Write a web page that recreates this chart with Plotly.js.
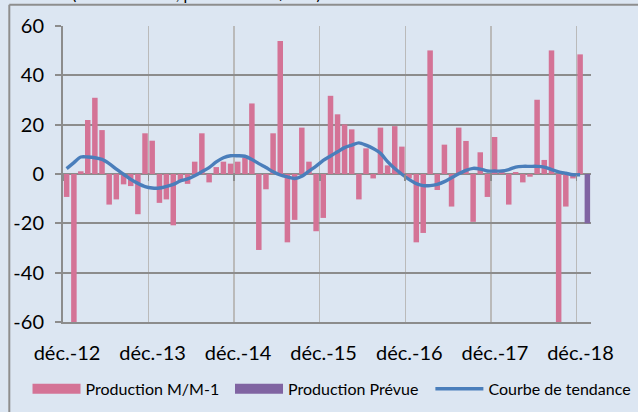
<!DOCTYPE html>
<html><head><meta charset="utf-8">
<script src="https://cdn.plot.ly/plotly-3.0.1.min.js"></script>
<style>html,body{margin:0;padding:0;background:#DCE6F2;} #chart{width:638px;height:412px;}</style>
</head><body><div id="chart"></div>
<script>
// Categories: months from déc. 2012 to déc. 2018
const months = [
 "2012-12",
 "2013-01","2013-02","2013-03","2013-04","2013-05","2013-06","2013-07","2013-08","2013-09","2013-10","2013-11","2013-12",
 "2014-01","2014-02","2014-03","2014-04","2014-05","2014-06","2014-07","2014-08","2014-09","2014-10","2014-11","2014-12",
 "2015-01","2015-02","2015-03","2015-04","2015-05","2015-06","2015-07","2015-08","2015-09","2015-10","2015-11","2015-12",
 "2016-01","2016-02","2016-03","2016-04","2016-05","2016-06","2016-07","2016-08","2016-09","2016-10","2016-11","2016-12",
 "2017-01","2017-02","2017-03","2017-04","2017-05","2017-06","2017-07","2017-08","2017-09","2017-10","2017-11","2017-12",
 "2018-01","2018-02","2018-03","2018-04","2018-05","2018-06","2018-07","2018-08","2018-09","2018-10","2018-11","2018-12"
];
// Production M/M-1 (%)
const production = [
 -9.3,
 -61, 1.1, 21.9, 30.9, 17.8, -12.4, -10.3, -4.2, -4.9, -16.3, 16.5, 13.5,
 -11.7, -10.3, -20.8, -3.2, -4.0, 5.0, 16.5, -3.4, 2.8, 5.0, 4.2, 5.0,
 6.6, 28.6, -30.8, -6.2, 16.5, 53.9, -27.7, -18.6, 18.8, 5.0, -23.2, -17.8,
 31.7, 24.2, 20.1, 18.1, -10.3, 10.4, -1.8, 18.8, 3.5, 19.4, 11.1, -1.8,
 -27.7, -23.9, 50.1, -6.5, 11.9, -13.2, 18.8, 13.4, -19.4, 8.8, -9.3, 15.0,
 0.8, -12.4, 0.8, -3.4, -1.1, 30.1, 5.7, 50.1, -61, -13.2, -1.8, 48.5
];
// Production Prévue
const forecastMonths = ["2019-01"];
const forecast = [-20];
// Courbe de tendance
const trend = [
 2.2,
 4.6, 6.9, 6.9, 6.6, 5.9, 4.2, 2.0, -0.1, -2.2, -3.8, -5.1, -5.7,
 -5.7, -5.0, -4.2, -2.8, -2.0, -0.7, 0.9, 2.6, 4.9, 6.6, 7.4, 7.4,
 7.2, 5.9, 4.2, 2.6, 0.9, -0.4, -1.2, -1.8, -0.9, 1.2, 3.2, 5.5,
 7.3, 9.0, 10.7, 11.7, 12.6, 11.7, 10.3, 8.4, 5.0, 2.2, -0.1, -2.2,
 -3.9, -4.7, -4.7, -4.2, -3.1, -1.5, 0.1, 1.5, 2.3, 2.0, 1.2, 1.2,
 1.2, 1.8, 2.8, 3.1, 3.1, 3.1, 2.8, 1.8, 0.9, 0.3, -0.3, -0.3
];
const xTickVals = ["2012-12-01","2013-12-01","2014-12-01","2015-12-01","2016-12-01","2017-12-01","2018-12-01"];
const xTickLabels = ["déc.-12","déc.-13","déc.-14","déc.-15","déc.-16","déc.-17","déc.-18"];
const yTickVals = [-60,-40,-20,0,20,40,60];
const yTickLabels = ["-60","-40","-20","0","20","40","60"];
const seriesNames = ["Production M/M-1","Production Prévue","Courbe de tendance"];
const subtitle = "(variation en %, production M/M-1)";

const PINK = "#D47396", PURPLE = "#8064A2", BLUE = "#4A7EBB";
const GRID_H = "#8C8C8C", GRID_V = "#BABABA", BG = "#DCE6F2";
const barWidthMs = 23.5 * 864e5;
const xRange = ["2012-12-01", "2019-02-01"];
const FONT = "Lato, 'Open Sans', sans-serif";

const traces = [
  {type:"bar", x:months, y:production, name:seriesNames[0], legendgroup:"g1", showlegend:false,
   xperiod:"M1", xperiodalignment:"middle", width:barWidthMs, marker:{color:PINK}, hoverinfo:"x+y"},
  {type:"bar", x:forecastMonths, y:forecast, name:seriesNames[1], legendgroup:"g2", showlegend:false,
   xperiod:"M1", xperiodalignment:"middle", width:barWidthMs, marker:{color:PURPLE}, hoverinfo:"x+y"},
  {type:"scatter", mode:"lines", x:months, y:trend, name:seriesNames[2], legendgroup:"g3", showlegend:false,
   xaxis:"x2", xperiod:"M1", xperiodalignment:"middle",
   line:{color:BLUE, width:3.4, shape:"spline", smoothing:0.8}},
  // legend keys (no data drawn)
  {type:"scatter", mode:"lines", x:[null], y:[null], name:seriesNames[0], legendgroup:"g1", legend:"legend",
   line:{color:PINK, width:10}, hoverinfo:"skip"},
  {type:"scatter", mode:"lines", x:[null], y:[null], name:seriesNames[1], legendgroup:"g2", legend:"legend2",
   line:{color:PURPLE, width:10}, hoverinfo:"skip"},
  {type:"scatter", mode:"lines", x:[null], y:[null], name:seriesNames[2], legendgroup:"g3", legend:"legend3",
   line:{color:BLUE, width:3.4}, hoverinfo:"skip"}
];

const legendBase = {orientation:"h", xanchor:"left", y:-0.226, yanchor:"middle",
  bgcolor:"rgba(0,0,0,0)", itemwidth:48, font:{family:FONT, size:16, color:"#000"}};

const layout = {
  width:638, height:412,
  margin:{l:63, r:47, t:26, b:90, pad:0, autoexpand:false},
  paper_bgcolor:BG, plot_bgcolor:BG,
  font:{family:FONT, size:16, color:"#000"},
  barmode:"overlay",
  xaxis:{type:"date", range:xRange, fixedrange:true, automargin:false,
    tickmode:"array", tickvals:xTickVals, ticktext:xTickLabels,
    showgrid:true, gridcolor:GRID_V, gridwidth:1.5,
    ticks:"", ticklabelshift:4, ticklabelstandoff:12,
    tickfont:{family:FONT, size:20, color:"#000"},
    showline:true, linecolor:GRID_H, linewidth:2, zeroline:false},
  xaxis2:{type:"date", range:xRange, fixedrange:true, overlaying:"x", anchor:"free", position:0.5,
    tickmode:"array", tickvals:xTickVals, showticklabels:false,
    ticks:"outside", ticklen:6, tickwidth:1.8, tickcolor:GRID_H,
    showgrid:false, zeroline:false, showline:false},
  yaxis:{range:[-60,60], fixedrange:true, automargin:false,
    tickmode:"array", tickvals:yTickVals, ticktext:yTickLabels,
    showgrid:true, gridcolor:GRID_H, gridwidth:1.8,
    zeroline:true, zerolinecolor:GRID_H, zerolinewidth:1.8,
    showline:true, linecolor:GRID_H, linewidth:2,
    ticks:"outside", ticklen:6, tickwidth:1.8, tickcolor:GRID_H,
    ticklabelstandoff:7,
    tickfont:{family:FONT, size:20, color:"#000"}},
  showlegend:true,
  legend:Object.assign({}, legendBase, {x:-0.0672}),
  legend2:Object.assign({}, legendBase, {x:0.3163}),
  legend3:Object.assign({}, legendBase, {x:0.6958}),
  shapes:[
    {type:"line", xref:"paper", yref:"paper", x0:-0.1017, x1:1.2, y0:1.072, y1:1.072, line:{color:"#8E8E8E", width:2}},
    {type:"line", xref:"paper", yref:"paper", x0:-0.1017, x1:-0.1017, y0:1.072, y1:-0.4, line:{color:"#8E8E8E", width:2}}
  ],
  annotations:[
    {xref:"paper", yref:"paper", x:0.013, y:1.111, xanchor:"left", yanchor:"middle", showarrow:false,
     text:subtitle, font:{family:FONT, size:16, color:"#000"}}
  ]
};

Plotly.newPlot("chart", traces, layout, {displayModeBar:false, staticPlot:true});
</script>
</body></html>
